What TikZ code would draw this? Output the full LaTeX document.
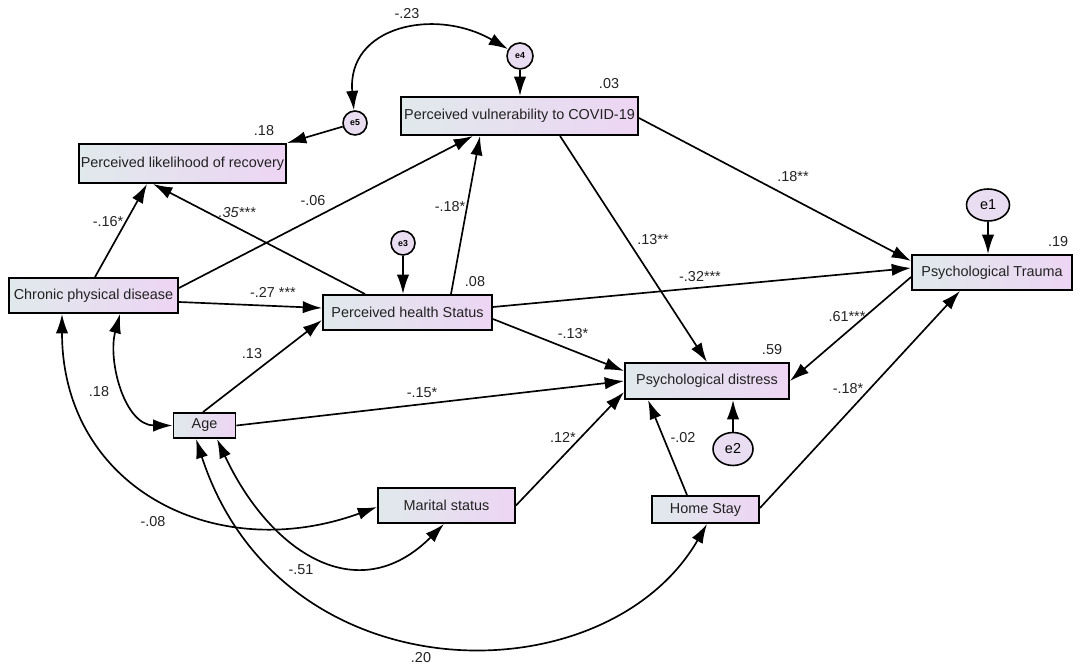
\documentclass[tikz,border=0pt]{standalone}
\usepackage{fontspec}
\setmainfont{Liberation Sans}
\usetikzlibrary{arrows.meta,shapes.geometric}
\definecolor{boxleft}{HTML}{E0E9EC}
\definecolor{boxright}{HTML}{EDD5F3}
\definecolor{errfill}{HTML}{E9DDF1}
\definecolor{txt}{HTML}{222222}

\begin{document}
\begin{tikzpicture}[x=0.02cm, y=-0.02cm, >={Latex[length=11pt,width=7pt]},
	var/.style = { draw, line width=1.1pt, left color=boxleft, right color=boxright, text=txt, font=\fontsize{8.2}{9}\selectfont, inner sep=0pt },
	err/.style = { draw, circle, line width=0.9pt, fill=errfill, inner sep=0pt, font=\fontsize{5}{6}\selectfont\bfseries },
	reg/.style = { line width=0.95pt, -> },
	cov/.style = { line width=0.95pt, <-> },
	lab/.style = { font=\fontsize{8.2}{9}\selectfont, text=txt, inner sep=0pt }
]
	\useasboundingbox (0,0) rectangle (1084,668);

	% observed variables
	\node [var, minimum width=4.14cm, minimum height=0.78cm] (rec) at (182.5,163.5) { Perceived likelihood of recovery };
	\node [var, minimum width=4.74cm, minimum height=0.76cm] (vul) at (519.5,116) { Perceived vulnerability to COVID-19 };
	\node [var, minimum width=3.38cm, minimum height=0.70cm] (cpd) at (93.5,295.5) { Chronic physical disease };
	\node [var, minimum width=3.38cm, minimum height=0.70cm] (phs) at (407.5,312.5) { Perceived health Status };
	\node [var, minimum width=3.20cm, minimum height=0.70cm] (trauma) at (992,272.5) { Psychological Trauma };
	\node [var, minimum width=3.28cm, minimum height=0.72cm] (distress) at (707,381) { Psychological distress };
	\node [var, minimum width=1.24cm, minimum height=0.50cm] (age) at (204.5,425.5) { Age };
	\node [var, minimum width=2.74cm, minimum height=0.70cm] (marital) at (446.5,505.5) { Marital status };
	\node [var, minimum width=2.14cm, minimum height=0.54cm] (home) at (705.5,509.5) { Home Stay };

	% error terms
	\node [err, minimum size=0.48cm] (e5) at (355,123) { e5 };
	\node [err, minimum size=0.52cm] (e4) at (520,56) { e4 };
	\node [err, minimum size=0.48cm] (e3) at (403,243) { e3 };
	\node [err, ellipse, minimum width=0.86cm, minimum height=0.64cm, font=\fontsize{8.2}{9}\selectfont] (e1) at (988,205) { e1 };
	\node [err, ellipse, minimum width=0.80cm, minimum height=0.66cm, font=\fontsize{8.2}{9}\selectfont] (e2) at (733,449) { e2 };

	% squared multiple correlations
	\node [lab] (r2rec) at (264,131) { .18 };
	\node [lab] (r2vul) at (609,84) { .03 };
	\node [lab] (r2phs) at (475,282) { .08 };
	\node [lab] (r2trauma) at (1058,242) { .19 };
	\node [lab] (r2distress) at (772,350) { .59 };

	% paths
	\draw [reg] (e5) -- (rec.north east);
	\draw [reg] (e4) -- (e4 |- vul.north);
	\draw [reg] (e3) -- (e3 |- phs.north);
	\draw [reg] (e1) -- (e1 |- trauma.north);
	\draw [reg] (e2) -- (e2 |- distress.south);
	\draw [reg] ([xshift=0.03cm]cpd.north) -- ([xshift=-0.71cm]rec.south);
	\draw [reg] ([xshift=-0.85cm]phs.north) -- ([xshift=-0.59cm]rec.south);
	\draw [reg] ([yshift=0.15cm]cpd.east) -- ([xshift=-0.93cm]vul.south);
	\draw [reg] ([xshift=0.87cm]phs.north) -- ([xshift=-0.79cm]vul.south);
	\draw [reg] ([yshift=-0.13cm]cpd.east) -- ([yshift=0.09cm]phs.west);
	\draw [reg] ([yshift=-0.04cm]vul.east) -- ([yshift=0.23cm]trauma.west);
	\draw [reg] ([xshift=0.81cm]vul.south) -- (distress.north);
	\draw [reg] ([yshift=0.11cm]phs.east) -- ([yshift=0.09cm]trauma.west);
	\draw [reg] ([yshift=-0.13cm]phs.east) -- ([yshift=0.20cm]distress.west);
	\draw [reg] ([xshift=-0.03cm]age.north) -- ([yshift=-0.15cm]phs.west);
	\draw [reg] (age.east) -- (distress.west);
	\draw [reg] ([yshift=-0.09cm]trauma.west) -- (distress.east);
	\draw [reg] (marital.east) -- ([yshift=-0.22cm]distress.west);
	\draw [reg] ([xshift=-0.37cm]home.north) -- ([xshift=-1.18cm]distress.south);
	\draw [reg] ([yshift=0.03cm]home.east) -- ([xshift=-0.64cm]trauma.south);

	% covariances
	\draw [cov] (e5) to [out=95, in=150, looseness=1.3] (e4);
	\draw [cov] ([xshift=0.53cm]cpd.south) to [out=-105, in=180] (age.west);
	\draw [cov] ([xshift=-0.63cm]cpd.south) to [out=-90, in=200, looseness=1.2] ([yshift=-0.03cm]marital.west);
	\draw [cov] ([xshift=0.25cm]age.south) to [out=-65, in=-135, looseness=1.3] ([xshift=-0.05cm]marital.south);
	\draw [cov] ([xshift=-0.17cm]age.south) to [out=-72, in=-120, out looseness=1.35, in looseness=1] ([xshift=0.03cm]home.south);

	% estimates
	\node [lab] (c23) at (407,14) { -.23 };
	\node [lab] (b16) at (108,222) { -.16* };
	\node [lab, font=\fontsize{8.2}{9}\selectfont\itshape] (b35) at (237,213) { .35*** };
	\node [lab] (b06) at (313,201) { -.06 };
	\node [lab] (b18a) at (450,207) { -.18* };
	\node [lab] (b13a) at (653,240) { .13** };
	\node [lab] (b18b) at (793,177) { .18** };
	\node [lab] (b32) at (700,277) { -.32*** };
	\node [lab] (b27) at (273,292) { -.27 *** };
	\node [lab] (b13b) at (252,354) { .13 };
	\node [lab] (c18) at (99,392) { .18 };
	\node [lab] (b13c) at (573,334) { -.13* };
	\node [lab] (b15) at (422,393) { -.15* };
	\node [lab] (b12) at (563,437) { .12* };
	\node [lab] (b02) at (683,438) { -.02 };
	\node [lab] (b61) at (847,317) { .61*** };
	\node [lab] (b18c) at (848,389) { -.18* };
	\node [lab] (c08) at (153,522) { -.08 };
	\node [lab] (c51) at (301,570) { -.51 };
	\node [lab] (c20) at (421,658) { .20 };
\end{tikzpicture}
\end{document}
